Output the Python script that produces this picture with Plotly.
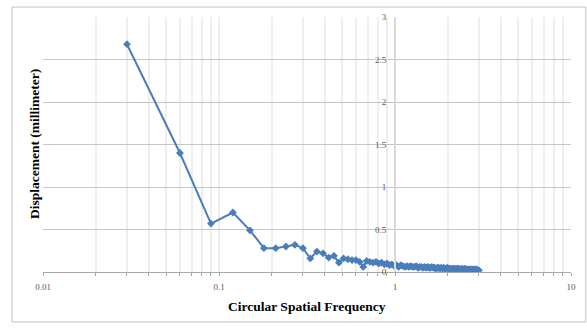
import plotly.graph_objects as go

frequency = [0.03, 0.06, 0.09, 0.12, 0.15, 0.18, 0.21, 0.24, 0.27, 0.30,
             0.33, 0.36, 0.39, 0.42, 0.45, 0.48, 0.51, 0.54, 0.57, 0.60,
             0.63, 0.66, 0.69, 0.72, 0.75, 0.78, 0.81, 0.84, 0.87, 0.90,
             0.93, 0.96, 0.99, 1.02, 1.05, 1.08, 1.11, 1.14, 1.17, 1.20,
             1.23, 1.26, 1.29, 1.32, 1.35, 1.38, 1.41, 1.44, 1.47, 1.50,
             1.53, 1.56, 1.59, 1.62, 1.65, 1.68, 1.71, 1.74, 1.77, 1.80,
             1.83, 1.86, 1.89, 1.92, 1.95, 1.98, 2.01, 2.04, 2.07, 2.10,
             2.13, 2.16, 2.19, 2.22, 2.25, 2.28, 2.31, 2.34, 2.37, 2.40,
             2.43, 2.46, 2.49, 2.52, 2.55, 2.58, 2.61, 2.64, 2.67, 2.70,
             2.73, 2.76, 2.79, 2.82, 2.85, 2.88, 2.91, 2.94, 2.97, 3.00]

displacement = [2.68, 1.40, 0.57, 0.70, 0.49, 0.28, 0.28, 0.30, 0.32, 0.28,
                0.16, 0.24, 0.22, 0.17, 0.19, 0.11, 0.16, 0.15, 0.14, 0.14,
                0.12, 0.06, 0.13, 0.12, 0.11, 0.12, 0.10, 0.11, 0.09, 0.10,
                0.08, 0.09, 0.07, 0.08, 0.06, 0.08, 0.07, 0.06, 0.07, 0.06,
                0.07, 0.06, 0.06, 0.07, 0.05, 0.06, 0.06, 0.05, 0.06, 0.05,
                0.06, 0.05, 0.05, 0.06, 0.05, 0.05, 0.04, 0.05, 0.05, 0.04,
                0.05, 0.04, 0.05, 0.04, 0.04, 0.05, 0.04, 0.04, 0.04, 0.03,
                0.04, 0.04, 0.03, 0.04, 0.04, 0.03, 0.04, 0.03, 0.03, 0.04,
                0.03, 0.03, 0.04, 0.03, 0.03, 0.03, 0.02, 0.03, 0.03, 0.03,
                0.02, 0.03, 0.03, 0.02, 0.03, 0.02, 0.03, 0.02, 0.02, 0.02]

x_major_ticks = [0.01, 0.1, 1, 10]
x_major_labels = ["0.01", "0.1", "1", "10"]
x_minor_ticks = [m * d for d in (0.01, 0.1, 1) for m in range(2, 10)]
y_ticks = [0, 0.5, 1, 1.5, 2, 2.5, 3]
y_labels = ["0", "0.5", "1", "1.5", "2", "2.5", "3"]

x_title = "Circular Spatial Frequency"
y_title = "Displacement (millimeter)"

serif = "Liberation Serif, Times New Roman, serif"

fig = go.Figure()
fig.add_trace(go.Scatter(
    x=frequency, y=displacement, mode="lines+markers",
    line=dict(color="#4a7ebb", width=2),
    marker=dict(symbol="diamond", size=6, color="#4a7ebb"),
    showlegend=False,
))

all_x_ticks = sorted(x_major_ticks + x_minor_ticks)
all_x_text = [x_major_labels[x_major_ticks.index(v)] if v in x_major_ticks else "" for v in all_x_ticks]

fig.update_layout(
    width=587, height=330,
    margin=dict(l=43, r=16, t=17, b=58),
    paper_bgcolor="white", plot_bgcolor="white",
    xaxis=dict(
        type="log", range=[-2, 1],
        tickmode="array", tickvals=all_x_ticks, ticktext=all_x_text,
        showgrid=True, gridcolor="#eeeeee", gridwidth=2,
        showline=True, linecolor="#a6a6a6", linewidth=1,
        ticks="outside", ticklen=3, tickcolor="#a6a6a6",
        ticklabelstandoff=3,
        tickfont=dict(family=serif, size=9, color="#595959"),
        zeroline=False,
    ),
    yaxis=dict(
        range=[0, 3], anchor="free", position=2 / 3, side="left",
        tickmode="array", tickvals=y_ticks, ticktext=y_labels,
        showgrid=True, gridcolor="#c6c6c6", gridwidth=1,
        showline=True, linecolor="#dadada", linewidth=2,
        ticks="", ticklabelstandoff=6,
        tickfont=dict(family=serif, size=9, color="#595959"),
        zeroline=False,
    ),
    annotations=[
        dict(text="<b>" + x_title + "</b>", xref="paper", yref="paper",
             x=0.5, y=0, yshift=-44, showarrow=False,
             font=dict(family=serif, size=13.5, color="black")),
        dict(text="<b>" + y_title + "</b>", xref="paper", yref="paper",
             x=0, y=0.5, xshift=-18, textangle=-90, showarrow=False,
             font=dict(family=serif, size=13.5, color="black")),
    ],
    shapes=[
        dict(type="rect", xref="paper", yref="paper",
             x0=-0.0587, x1=1.028, y0=-0.196, y1=1.039,
             line=dict(color="#c0c0c0", width=1), fillcolor="rgba(0,0,0,0)",
             layer="below"),
    ],
)

fig.write_html("out.html", config={"displayModeBar": False},
               post_script="document.body.style.margin='0';")
